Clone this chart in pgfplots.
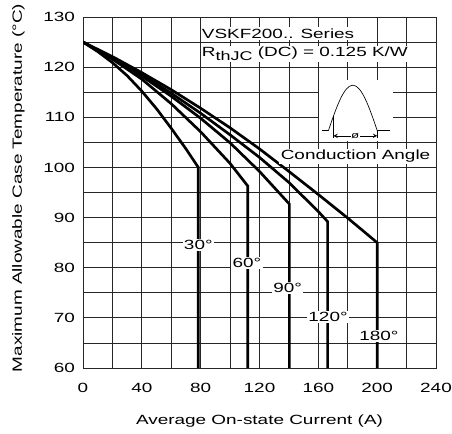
\documentclass[border=0pt]{standalone}
\usepackage{fontspec}
\setmainfont{Liberation Sans}[FakeStretch=1.42]
\usepackage{pgfplots}
\pgfplotsset{compat=1.18}
\begin{document}
\begin{tikzpicture}
\useasboundingbox (-62.25pt,-49.5pt) rectangle (276.75pt,276pt);
\begin{axis}[
  at={(0,0)}, anchor=south west,
  scale only axis, width=264.75pt, height=263.25pt,
  xmin=0, xmax=240, ymin=60, ymax=130,
  xtick={0,40,...,240}, ytick={60,70,...,130},
  minor xtick={20,60,...,220}, minor ytick={65,75,...,125},
  grid=both,
  major grid style={line width=0.6pt, draw=black!85},
  minor grid style={line width=0.6pt, draw=black!85},
  axis line style={line width=0.6pt, draw=black!85},
  tick style={draw=none},
  /pgf/number format/assume math mode=true,
  ticklabel style={font=\fontsize{10}{12}\selectfont},
  yticklabel style={xshift=-2.5pt},
  xticklabel style={yshift=-8pt},
  xlabel={Average On-state Current (A)},
  ylabel={Maximum Allowable Case Temperature (°C)},
  label style={font=\fontsize{10}{12}\selectfont},
  xlabel style={at={(axis description cs:0.5,-0.151)}, anchor=center},
  ylabel style={at={(axis description cs:-0.183,0.513)}, anchor=center},
  every node/.append style={font=\fontsize{10}{12}\selectfont},
]
% 30 deg
\addplot[black, line width=2pt] coordinates {(0,125)(10,123.1)(20,120.9)(30,118.3)(40,115.2)(50,111.7)(60,107.8)(70,103.7)(78.4,100)(78.4,60)};
% 60 deg
\addplot[black, line width=2pt] coordinates {(0,125)(20,121.6)(40,117.6)(60,112.7)(80,107.1)(100,100.8)(112,96.3)(112,60)};
% 90 deg
\addplot[black, line width=2pt] coordinates {(0,125)(20,121.8)(40,118.2)(60,114.2)(80,109.8)(100,104.9)(120,99.2)(140.3,92.7)(140.3,60)};
% 120 deg
\addplot[black, line width=2pt] coordinates {(0,125)(20,121.9)(40,118.5)(60,114.8)(80,110.8)(100,106.5)(120,102.0)(140,97.0)(160,91.2)(166.3,89.2)(166.3,60)};
% 180 deg
\addplot[black, line width=2pt] coordinates {(0,125)(20,122.1)(40,118.9)(60,115.5)(80,111.8)(100,107.9)(120,103.7)(140,99.2)(160,94.6)(180,89.9)(200,85)(200,60)};

% curve labels
\node[fill=white, inner sep=1pt] at (axis cs:78.4,84.5) {30°};
\node[fill=white, inner sep=1pt] at (axis cs:111.5,80.9) {60°};
\node[fill=white, inner sep=1pt] at (axis cs:139.2,75.9) {90°};
\node[fill=white, inner sep=1pt] at (axis cs:166.6,70.1) {120°};
\node[fill=white, inner sep=1pt] at (axis cs:201.2,66.3) {180°};

% title
\node[fill=white, inner sep=1pt, anchor=base west] at (axis cs:79.8,125.8) {VSKF200.. Series};
\node[fill=white, inner sep=1pt, anchor=base west] at (axis cs:79.8,122.1) {R{\fontsize{9.5}{10}\selectfont\raisebox{-0.6ex}{thJC}} (DC) = 0.125 K/W};

% inset
\fill[white] (axis cs:160.6,117.4) rectangle (axis cs:211,105.3);
\draw[line width=0.5pt] (axis cs:166.8,107.3) sin (axis cs:183.45,116.4) cos (axis cs:200.1,107.3);
\draw[line width=0.5pt] (axis cs:162.3,107.3) -- (axis cs:166.8,107.3);
\draw[line width=0.5pt] (axis cs:200.1,107.3) -- (axis cs:208.7,107.3);
\draw[line width=0.5pt] (axis cs:170.2,110.3) -- (axis cs:170.2,105.9);
\draw[line width=0.5pt] (axis cs:200.1,107.3) -- (axis cs:200.1,105.9);
\draw[line width=0.5pt, <->, >=stealth] (axis cs:170.2,106.3) -- (axis cs:200.1,106.3);
\node[fill=white, inner sep=0.5pt, font=\fontsize{7}{8}\selectfont] at (axis cs:185.1,106.3) {ø};
\node[fill=white, inner sep=1pt, anchor=base] at (axis cs:185.3,101.5) {Conduction Angle};
\end{axis}
\end{tikzpicture}
\end{document}
